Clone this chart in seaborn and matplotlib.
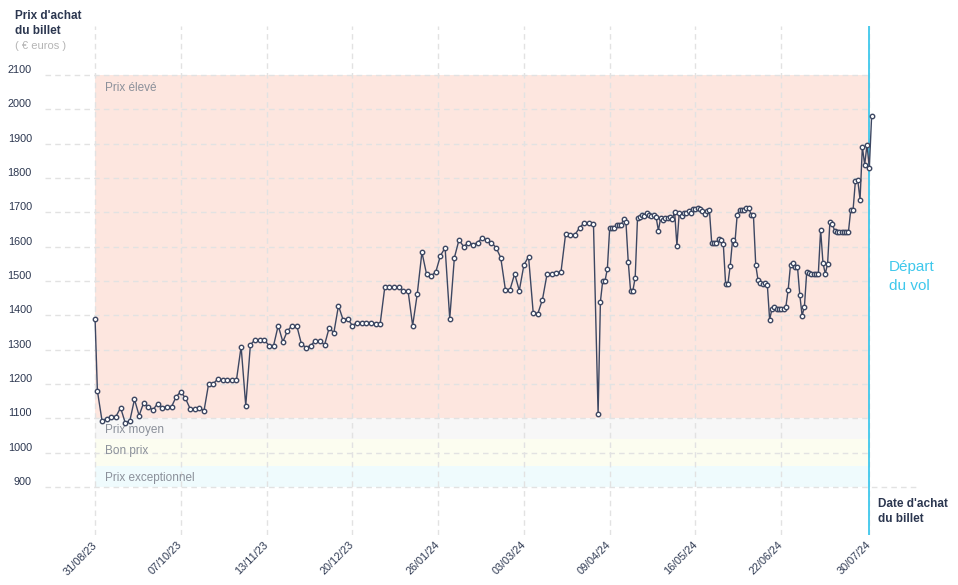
"""Historique du prix d'un billet d'avion jusqu'au départ du vol
"""

import pandas as pd
import matplotlib.pyplot as plt
import seaborn as sns

# STYLE
sns.set_style("white")
plt.rcParams['font.family'] = ['Liberation Sans', 'DejaVu Sans']
NAVY = '#2c3750'
LINE = '#3d4762'
CYAN = '#3fc8ec'
GRID = '#e2e2e2'
BAND_TXT = '#8b909a'

# DONNEES
date_debut = "2023-08-31"
date_depart = "2024-07-30"

# jours écoulés depuis le 31/08/23
jours = [
    0, 1, 3, 5, 7, 9, 11, 13, 15, 17, 19, 21, 23, 25, 27, 29, 31, 33, 35, 37,
    39, 41, 43, 45, 47, 49, 51, 53, 55, 57, 59, 61, 63, 65, 67, 69, 71, 73, 75, 77,
    79, 81, 83, 85, 87, 89, 91, 93, 95, 97, 99, 101, 103, 105, 107, 109, 111, 113, 115, 117,
    119, 121, 123, 125, 127, 129, 131, 133, 135, 137, 139, 141, 143, 145, 147, 149, 151, 153, 155, 157,
    159, 161, 163, 165, 167, 169, 171, 173, 175, 177, 179, 181, 183, 185, 187, 189, 191, 193, 195, 197,
    199, 201, 203, 205, 207, 209, 211, 213, 215, 217,
    218, 219, 220, 221, 222, 223, 224, 225, 226, 227, 228, 229, 230, 231, 232, 233, 234, 235, 236, 237,
    238, 239, 240, 241, 242, 243, 244, 245, 246, 247, 248, 249, 250, 251, 252, 253, 254, 255, 256, 257,
    258, 259, 260, 261, 262, 263, 264, 265, 266, 267, 268, 269, 270, 271, 272, 273, 274, 275, 276, 277,
    278, 279, 280, 281, 282, 283, 284, 285, 286, 287, 288, 289, 290, 291, 292, 293, 294, 295, 296, 297,
    298, 299, 300, 301, 302, 303, 304, 305, 306, 307, 308, 309, 310, 311, 312, 313, 314, 315, 316, 317,
    318, 319, 320, 321, 322, 323, 324, 325, 326, 327, 328, 329, 330, 331, 332, 333, 334, 335,
]

prix = [
    1390, 1180, 1093, 1099, 1105, 1105, 1131, 1087, 1093, 1155,
    1108, 1146, 1132, 1125, 1143, 1131, 1134, 1134, 1163, 1178,
    1158, 1128, 1128, 1131, 1122, 1201, 1201, 1215, 1212, 1212,
    1212, 1212, 1309, 1137, 1314, 1329, 1329, 1329, 1312, 1312,
    1370, 1323, 1355, 1370, 1370, 1317, 1306, 1312, 1326, 1326,
    1314, 1364, 1349, 1428, 1387, 1390, 1370, 1379, 1379, 1379,
    1379, 1376, 1376, 1483, 1483, 1483, 1483, 1472, 1472, 1370,
    1463, 1584, 1520, 1515, 1527, 1574, 1597, 1390, 1568, 1620,
    1600, 1612, 1606, 1612, 1626, 1620, 1612, 1597, 1568, 1475,
    1475, 1521, 1472, 1547, 1571, 1408, 1405, 1446, 1521, 1521,
    1524, 1527, 1638, 1635, 1635, 1655, 1670, 1670, 1667, 1113,
    1440, 1501, 1501, 1536, 1655, 1655, 1655, 1664, 1664, 1664,
    1681, 1673, 1556, 1472, 1472, 1510, 1684, 1687, 1693, 1690,
    1699, 1693, 1690, 1693, 1687, 1647, 1684, 1678, 1684, 1684,
    1687, 1681, 1702, 1603, 1699, 1690, 1699, 1699, 1705, 1699,
    1711, 1711, 1714, 1711, 1705, 1696, 1705, 1708, 1612, 1612,
    1612, 1623, 1620, 1609, 1492, 1492, 1545, 1620, 1609, 1693,
    1708, 1708, 1708, 1714, 1714, 1693, 1693, 1547, 1502, 1495,
    1492, 1495, 1489, 1387, 1419, 1425, 1419, 1419, 1419, 1419,
    1425, 1475, 1547, 1553, 1542, 1542, 1460, 1399, 1425, 1527,
    1524, 1521, 1521, 1521, 1521, 1649, 1553, 1521, 1550, 1673,
    1667, 1647, 1644, 1644, 1644, 1644, 1644, 1644, 1708, 1708,
    1792, 1795, 1737, 1891, 1839, 1897, 1830, 1981,
]

tick_labels = ["31/08/23", "07/10/23", "13/11/23", "20/12/23", "26/01/24",
               "03/03/24", "09/04/24", "16/05/24", "22/06/24", "30/07/24"]
y_ticks = [900, 1000, 1100, 1200, 1300, 1400, 1500, 1600, 1700, 1800, 1900, 2000, 2100]

bande_noms = ["Prix élevé", "Prix moyen", "Bon prix", "Prix exceptionnel"]
bande_bas = [1100, 1040, 960, 900]
bande_haut = [2100, 1100, 1040, 960]
bande_couleurs = ['#fde6df', '#f7f7f7', '#fcfdf0', '#effbfd']

# PREPARATION
debut = pd.Timestamp(date_debut)
depart = pd.Timestamp(date_depart)
df = pd.DataFrame({
    'date': debut + pd.to_timedelta(jours, unit='D'),
    'prix': prix,
})
tick_dates = pd.to_datetime(tick_labels, format="%d/%m/%y")

# FIGURE
fig = plt.figure(figsize=(9.58, 5.85), dpi=100)
ax = fig.add_axes([45 / 958, 50 / 585, 873 / 958, 509 / 585])

x_min = debut - pd.Timedelta(days=21.6)
x_max = debut + pd.Timedelta(days=355)
ax.set_xlim(x_min, x_max)
ax.set_ylim(760, 2243)

# zones de prix
for nom, bas, haut, c in zip(bande_noms, bande_bas, bande_haut, bande_couleurs):
    ax.fill_between([debut, depart], bas, haut, color=c, lw=0, zorder=0)
    ax.annotate(nom, xy=(debut, haut), xytext=(7, -8.5 if haut < 2000 else -9),
                textcoords='offset points', ha='left', va='center',
                fontsize=8.5, color=BAND_TXT, zorder=2)

# grille
dash = (0, (4, 3))
for d in tick_dates:
    ax.axvline(d, color=GRID, lw=1, ls=dash, zorder=1)
for y in y_ticks:
    fin = x_max if y == 900 else depart
    ax.hlines(y, x_min, fin, color=GRID, lw=1, ls=dash, zorder=1)

# depart du vol
ax.axvline(depart, color=CYAN, lw=1.3, zorder=4)

# courbe
sns.lineplot(data=df, x='date', y='prix', ax=ax, color=LINE, lw=1,
             marker='o', markersize=3.2, markerfacecolor='white',
             markeredgecolor=LINE, markeredgewidth=1, zorder=5)

# axes
ax.set_xticks(tick_dates)
ax.set_xticklabels(tick_labels, rotation=45, ha='right', va='center',
                   rotation_mode='anchor')
ax.set_yticks(y_ticks)
ax.set_yticklabels([str(v) for v in y_ticks])
for lab in ax.get_yticklabels():
    lab.set_va('bottom')
ax.tick_params(axis='y', length=0, pad=9.5, labelsize=7.8, labelcolor=NAVY)
ax.tick_params(axis='x', length=0, pad=6, labelsize=7.8, labelcolor=NAVY)
ax.set_xlabel('')
ax.set_ylabel('')
for s in ax.spines.values():
    s.set_visible(False)
ax.patch.set_alpha(0)

# titres
fig.text(15 / 958, 1 - 10 / 585, "Prix d'achat\ndu billet", ha='left', va='top',
         fontsize=8.5, fontweight='bold', color=NAVY, linespacing=1.35)
fig.text(15 / 958, 1 - 46 / 585, "( € euros )", ha='left', va='center',
         fontsize=8, color='#b5b5b5')
fig.text(878 / 958, 1 - 498 / 585, "Date d'achat\ndu billet", ha='left', va='top',
         fontsize=8.5, fontweight='bold', color=NAVY, linespacing=1.35)
fig.text(889 / 958, 1 - 260 / 585, "Départ\ndu vol", ha='left', va='top',
         fontsize=11, color=CYAN, linespacing=1.45)

fig.savefig('out.png', dpi=100)
